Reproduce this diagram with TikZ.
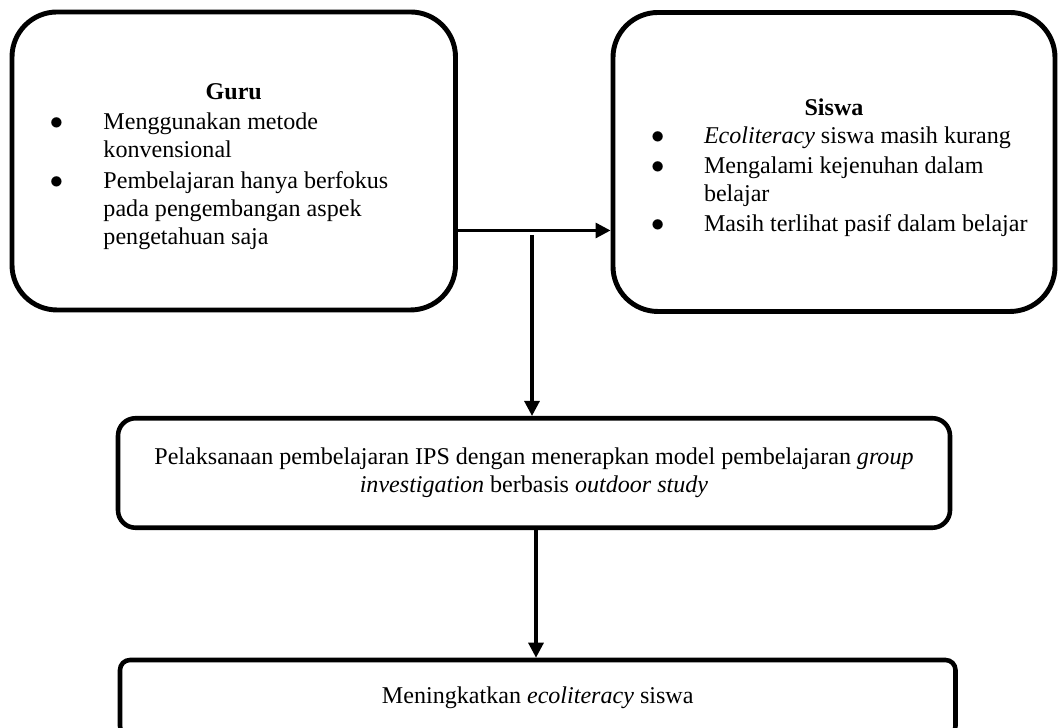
\documentclass[tikz,border=0pt]{standalone}
\usepackage{fontspec}
\setmainfont{Liberation Serif}
\usepackage{tikz}
\usetikzlibrary{shapes,arrows.meta,positioning,calc}

\newcommand{\butir}{\scalebox{1.05}{$\bullet$}}

\begin{document}
\begin{tikzpicture}[font=\fontsize{13.7}{15.9}\selectfont]
    % Gaya
    \tikzstyle{kotak} = [rectangle, draw, line width=2.8pt, rounded corners=0.9cm, inner sep=0pt]
    \tikzstyle{kotakkecil} = [rectangle, draw, line width=2.6pt, rounded corners=0.35cm, align=center, inner sep=0pt]
    \tikzstyle{panah} = [line width=1.8pt, -{Triangle[length=0.3cm,width=0.3cm]}]

    \useasboundingbox (0,0) rectangle (21.18,14.56);
    \clip (0,0) rectangle (21.18,14.56);

    % Kotak atas
    \node[kotak, minimum width=8.87cm, minimum height=5.96cm] (guru) at (4.675,11.34) {%
        \begin{tabular}{@{\hspace{0.76cm}}p{1.07cm}@{}p{7.04cm}@{}}
        \multicolumn{2}{@{}c@{}}{\rule{0pt}{17pt}\textbf{Guru}}\\[1.5pt]
        \butir & Menggunakan metode\\
               & konvensional\\[1.5pt]
        \butir & Pembelajaran hanya berfokus\\
               & pada pengembangan aspek\\
               & pengetahuan saja
        \end{tabular}};
    \node[kotak, minimum width=8.84cm, minimum height=5.98cm] (siswa) at (16.68,11.32) {%
        \begin{tabular}{@{\hspace{0.76cm}}p{1.06cm}@{}p{7.02cm}@{}}
        \multicolumn{2}{@{}c@{}}{\rule{0pt}{18pt}\textbf{Siswa}}\\
        \butir & \textit{Ecoliteracy} siswa masih kurang\\[1pt]
        \butir & Mengalami kejenuhan dalam\\
               & belajar\\[1.5pt]
        \butir & Masih terlihat pasif dalam belajar
        \end{tabular}};

    % Kotak bawah
    \node[kotakkecil, minimum width=16.64cm, minimum height=2.19cm] (proses) at (10.68,5.10)
        {Pelaksanaan pembelajaran IPS dengan menerapkan model pembelajaran \textit{group}\\
         \textit{investigation} berbasis \textit{outdoor study}};
    \node[kotakkecil, rounded corners=0.2cm, minimum width=16.71cm, minimum height=1.52cm] (hasil) at (10.755,0.6)
        {Meningkatkan \textit{ecoliteracy} siswa};

    % Panah
    \coordinate (cabang) at (10.64,9.95);
    \draw[panah] (guru.east |- cabang) -- (siswa.west |- cabang);
    \draw[panah] ([yshift=-0.09cm]cabang) -- (cabang |- proses.north);
    \draw[panah] ([xshift=0.04cm]proses.south) -- ([xshift=0.04cm]proses.south |- hasil.north);
\end{tikzpicture}
\end{document}
